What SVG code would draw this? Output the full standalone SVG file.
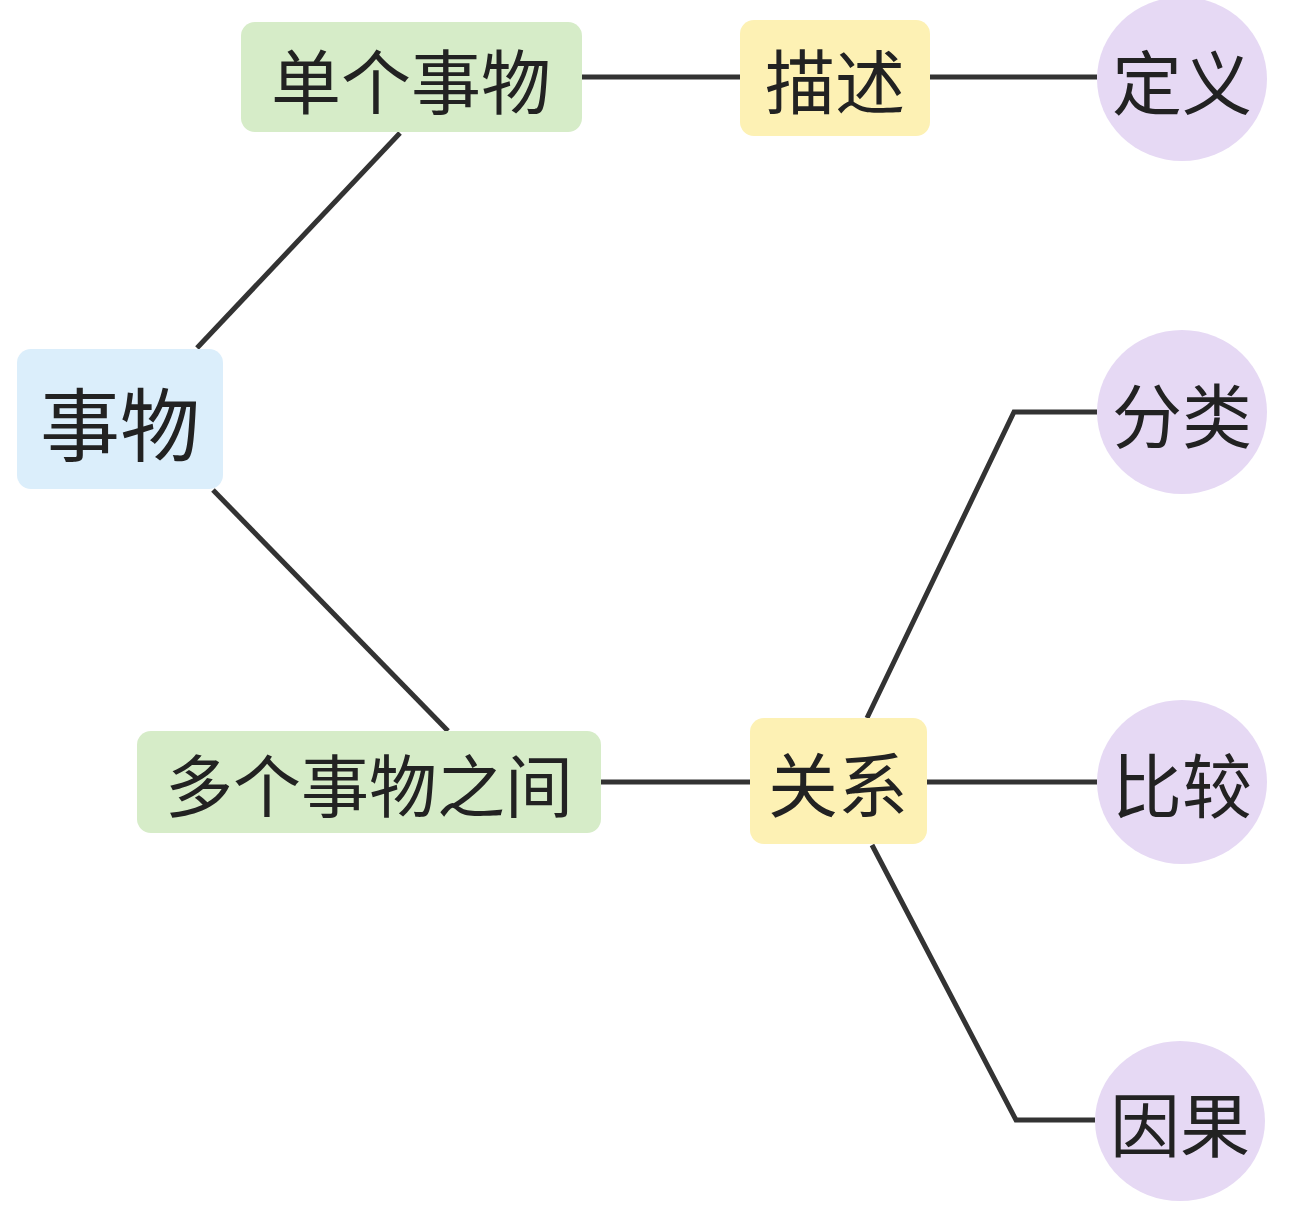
<svg xmlns="http://www.w3.org/2000/svg" width="1289" height="1221" viewBox="0 0 1289 1221">
<style>
text{font-family:"Noto Sans CJK SC",sans-serif;fill:#222;text-anchor:middle;dominant-baseline:central}
.c path,.c line{stroke:#333;stroke-width:5;fill:none}
.g{fill:#d6ecc8}.y{fill:#fdf1b4}.p{fill:#e6d9f4}.b{fill:#dbeefb}
</style>
<rect width="1289" height="1221" fill="#fff"/>
<g class="c">
<line x1="197" y1="348" x2="400" y2="133"/>
<line x1="213" y1="490" x2="448" y2="731"/>
<line x1="582" y1="77" x2="740" y2="77"/>
<line x1="930" y1="77" x2="1097" y2="77"/>
<line x1="601" y1="782" x2="750" y2="782"/>
<path d="M867 718L1014 412H1097"/>
<line x1="927" y1="782" x2="1097" y2="782"/>
<path d="M872 845L1016 1120H1095"/>
</g>
<g id="n1"><rect class="b" x="17" y="349" width="206" height="140" rx="14"/><text x="120" y="420" font-size="80">事物</text></g>
<g id="n2"><rect class="g" x="241" y="22" width="341" height="110" rx="14"/><text x="411" y="78" font-size="70">单个事物</text></g>
<g id="n3"><rect class="y" x="740" y="20" width="190" height="116" rx="14"/><text x="835" y="78" font-size="70">描述</text></g>
<g id="n4"><ellipse class="p" cx="1182" cy="79" rx="85" ry="82"/><text x="1182" y="79" font-size="70">定义</text></g>
<g id="n5"><rect class="g" x="137" y="731" width="464" height="102" rx="14"/><text x="369" y="782" font-size="68">多个事物之间</text></g>
<g id="n6"><rect class="y" x="750" y="718" width="177" height="126" rx="14"/><text x="838" y="781" font-size="70">关系</text></g>
<g id="n7"><ellipse class="p" cx="1182" cy="412" rx="85" ry="82"/><text x="1182" y="412" font-size="70">分类</text></g>
<g id="n8"><ellipse class="p" cx="1182" cy="782" rx="85" ry="82"/><text x="1182" y="782" font-size="70">比较</text></g>
<g id="n9"><ellipse class="p" cx="1180" cy="1121" rx="85" ry="80"/><text x="1180" y="1121" font-size="70">因果</text></g>
</svg>
